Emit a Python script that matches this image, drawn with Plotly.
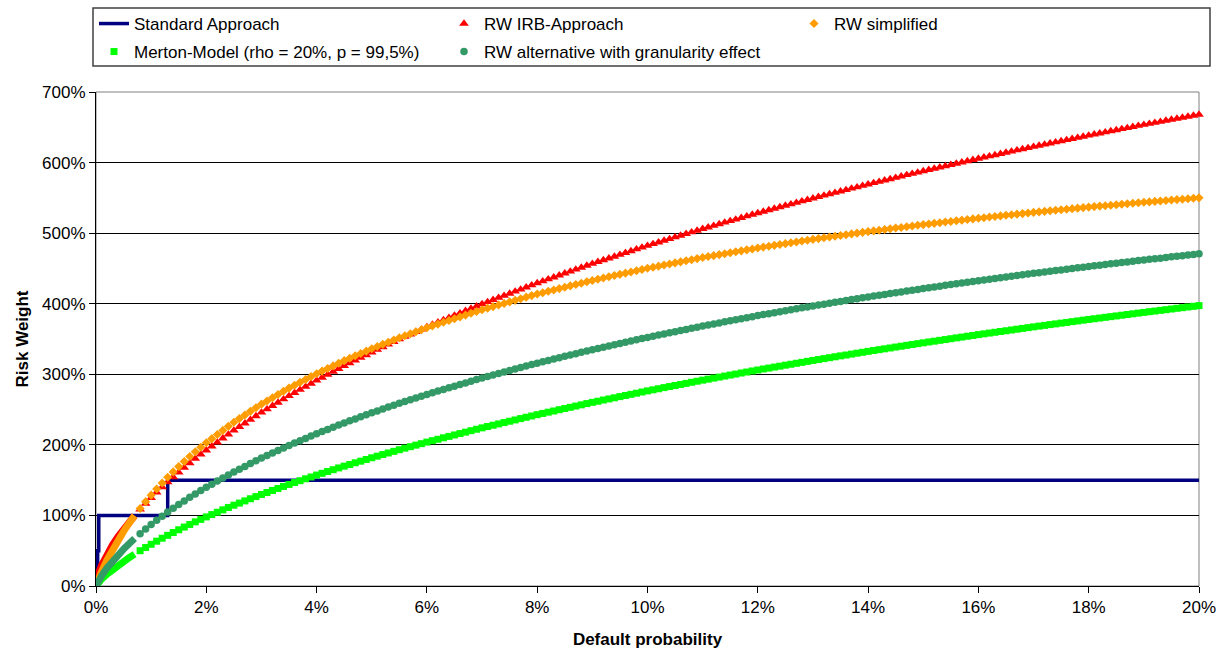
import plotly.graph_objects as go

# ---------------- data (risk weights in %, default probability in %) ----------------
# main grid: default probability 0.8% .. 20% in 0.1% steps (193 points)
pd_grid = [round(0.8 + 0.1 * i, 1) for i in range(193)]

# dense start of the curves (0% .. 0.7%)
pd_start = [0.0, 0.02, 0.05, 0.1, 0.2, 0.3, 0.4, 0.5, 0.6, 0.7]
irb_start = [0.0, 11.2, 19.1, 29.2, 45.2, 58.4, 69.9, 80.5, 90.4, 99.6]
simpl_start = [0.0, 5.0, 10.7, 20.2, 37.0, 51.7, 65.1, 77.4, 88.9, 99.7]
merton_start = [0.0, 2.4, 5.3, 9.5, 16.8, 23.3, 29.2, 34.8, 40.1, 45.1]
gran_start = [0.0, 4.0, 8.0, 14.5, 25.6, 35.3, 44.1, 52.3, 60.0, 67.3]

rw_irb = [
    108.6, 116.9, 124.9, 132.7, 140.2, 147.3, 154.3, 161.1, 167.7, 174.0, 180.4, 186.4, 192.3,
    197.9, 203.5, 209.2, 214.8, 220.4,
    225.5, 230.6, 235.7, 240.8, 245.9,
    250.6, 255.3, 260.0, 264.7, 269.4,
    273.8, 278.2, 282.5, 286.9, 291.3,
    295.4, 299.5, 303.7, 307.8, 311.9,
    315.8, 319.6, 323.5, 327.3, 331.2,
    334.9, 338.6, 342.3, 346.0, 349.7,
    353.2, 356.7, 360.1, 363.6, 367.1,
    370.4, 373.6, 376.9, 380.1, 383.4, 386.6, 389.9, 393.1, 396.4, 399.6,
    402.6, 405.5, 408.5, 411.4, 414.4, 417.4, 420.3, 423.3, 426.2, 429.2,
    432.0, 434.7, 437.5, 440.2, 443.0, 445.7, 448.5, 451.2, 454.0, 456.7,
    459.3, 461.8, 464.4, 466.9, 469.5, 472.1, 474.6, 477.2, 479.7, 482.3,
    484.7, 487.1, 489.4, 491.8, 494.2, 496.6, 499.0, 501.3, 503.7, 506.1,
    508.3, 510.6, 512.8, 515.1, 517.3, 519.5, 521.8, 524.0, 526.3, 528.5,
    530.6, 532.7, 534.8, 536.9, 539.0, 541.0, 543.1, 545.2, 547.3, 549.4,
    551.4, 553.4, 555.3, 557.3, 559.3, 561.3, 563.3, 565.2, 567.2, 569.2,
    571.1, 573.0, 574.8, 576.7, 578.6, 580.5, 582.4, 584.2, 586.1, 588.0,
    589.8, 591.5, 593.3, 595.1, 596.9, 598.6, 600.4, 602.2, 603.9, 605.7,
    607.4, 609.1, 610.7, 612.4, 614.1, 615.8, 617.5, 619.1, 620.8, 622.5,
    624.1, 625.7, 627.3, 628.9, 630.5, 632.1, 633.7, 635.3, 636.9, 638.5,
    640.0, 641.5, 643.1, 644.6, 646.1, 647.6, 649.1, 650.7, 652.2, 653.7,
    655.1, 656.6, 658.0, 659.5, 660.9, 662.3, 663.8, 665.2, 666.7, 668.1,
]

rw_simplified = [
    109.9, 119.5, 128.7, 137.5, 145.9, 154.0, 161.7, 169.2, 176.4, 183.4, 190.2, 196.6, 203.0,
    208.8, 214.6, 220.5, 226.3, 232.1,
    237.2, 242.3, 247.5, 252.6, 257.7,
    262.2, 266.8, 271.3, 275.9, 280.4,
    284.5, 288.6, 292.6, 296.7, 300.8,
    304.5, 308.2, 311.9, 315.6, 319.3,
    322.7, 326.1, 329.4, 332.8, 336.2,
    339.3, 342.4, 345.5, 348.6, 351.7,
    354.6, 357.4, 360.3, 363.1, 366.0,
    368.6, 371.1, 373.7, 376.2, 378.8, 381.3, 383.9, 386.4, 389.0, 391.5,
    393.7, 395.9, 398.2, 400.4, 402.6, 404.8, 407.0, 409.3, 411.5, 413.7,
    415.6, 417.6, 419.5, 421.4, 423.4, 425.3, 427.2, 429.1, 431.1, 433.0,
    434.7, 436.4, 438.2, 439.9, 441.6, 443.3, 445.0, 446.8, 448.5, 450.2,
    451.7, 453.2, 454.8, 456.3, 457.8, 459.3, 460.8, 462.4, 463.9, 465.4,
    466.8, 468.1, 469.5, 470.8, 472.2, 473.6, 474.9, 476.3, 477.6, 479.0,
    480.2, 481.4, 482.7, 483.9, 485.1, 486.3, 487.5, 488.8, 490.0, 491.2,
    492.3, 493.4, 494.5, 495.6, 496.7, 497.8, 498.9, 500.0, 501.1, 502.2,
    503.2, 504.2, 505.2, 506.2, 507.2, 508.1, 509.1, 510.1, 511.1, 512.1,
    513.0, 513.9, 514.8, 515.7, 516.6, 517.5, 518.4, 519.3, 520.2, 521.1,
    521.9, 522.8, 523.6, 524.4, 525.3, 526.1, 526.9, 527.7, 528.6, 529.4,
    530.2, 530.9, 531.7, 532.4, 533.2, 533.9, 534.7, 535.4, 536.2, 536.9,
    537.6, 538.3, 538.9, 539.6, 540.3, 541.0, 541.7, 542.3, 543.0, 543.7,
    544.3, 545.0, 545.6, 546.2, 546.9, 547.5, 548.1, 548.7, 549.4, 550.0,
]

rw_merton = [
    50.0, 54.6, 59.1, 63.5, 67.7, 71.8, 75.8, 79.7, 83.5, 87.2, 90.9, 94.4, 97.9,
    101.2, 104.5, 107.9, 111.2, 114.5,
    117.5, 120.6, 123.6, 126.7, 129.7,
    132.5, 135.4, 138.2, 141.1, 143.9,
    146.6, 149.2, 151.9, 154.5, 157.2,
    159.7, 162.2, 164.8, 167.3, 169.8,
    172.2, 174.6, 176.9, 179.3, 181.7,
    184.0, 186.3, 188.5, 190.8, 193.1,
    195.3, 197.4, 199.6, 201.7, 203.9,
    205.9, 207.9, 210.0, 212.0, 214.0, 216.0, 218.0, 220.1, 222.1, 224.1,
    226.0, 227.8, 229.7, 231.6, 233.5, 235.3, 237.2, 239.1, 240.9, 242.8,
    244.5, 246.3, 248.0, 249.8, 251.5, 253.2, 255.0, 256.7, 258.5, 260.2,
    261.8, 263.5, 265.1, 266.7, 268.4, 270.0, 271.6, 273.2, 274.9, 276.5,
    278.0, 279.5, 281.1, 282.6, 284.1, 285.6, 287.1, 288.7, 290.2, 291.7,
    293.1, 294.6, 296.0, 297.5, 298.9, 300.3, 301.8, 303.2, 304.7, 306.1,
    307.5, 308.8, 310.2, 311.5, 312.9, 314.2, 315.6, 316.9, 318.3, 319.6,
    320.9, 322.2, 323.5, 324.8, 326.1, 327.3, 328.6, 329.9, 331.2, 332.5,
    333.7, 334.9, 336.1, 337.3, 338.6, 339.8, 341.0, 342.2, 343.4, 344.6,
    345.8, 346.9, 348.1, 349.2, 350.4, 351.6, 352.7, 353.9, 355.0, 356.2,
    357.3, 358.4, 359.5, 360.6, 361.7, 362.8, 363.9, 365.0, 366.1, 367.2,
    368.3, 369.3, 370.4, 371.4, 372.5, 373.5, 374.6, 375.6, 376.7, 377.7,
    378.7, 379.7, 380.7, 381.7, 382.7, 383.7, 384.7, 385.7, 386.7, 387.7,
    388.7, 389.6, 390.6, 391.5, 392.5, 393.5, 394.4, 395.4, 396.3, 397.3,
]

rw_granularity = [
    74.2, 80.8, 87.1, 93.1, 99.0, 104.7, 110.1, 115.4, 120.6, 125.6, 130.5, 135.3, 140.0,
    144.3, 148.7, 153.0, 157.4, 161.7,
    165.6, 169.5, 173.5, 177.4, 181.3,
    184.9, 188.5, 192.1, 195.6, 199.2,
    202.5, 205.8, 209.1, 212.4, 215.7,
    218.8, 221.9, 224.9, 228.0, 231.1,
    234.0, 236.8, 239.7, 242.5, 245.4,
    248.1, 250.8, 253.5, 256.2, 258.9,
    261.4, 263.9, 266.5, 269.0, 271.5,
    273.8, 276.2, 278.5, 280.8, 283.2, 285.5, 287.8, 290.1, 292.5, 294.8,
    296.9, 299.0, 301.1, 303.2, 305.3, 307.4, 309.5, 311.6, 313.7, 315.8,
    317.7, 319.6, 321.5, 323.4, 325.4, 327.3, 329.2, 331.1, 333.0, 334.9,
    336.6, 338.4, 340.1, 341.9, 343.6, 345.3, 347.1, 348.8, 350.6, 352.3,
    353.9, 355.5, 357.1, 358.7, 360.4, 362.0, 363.6, 365.2, 366.8, 368.4,
    369.9, 371.4, 372.8, 374.3, 375.8, 377.3, 378.8, 380.2, 381.7, 383.2,
    384.6, 385.9, 387.3, 388.7, 390.1, 391.4, 392.8, 394.2, 395.5, 396.9,
    398.2, 399.4, 400.7, 402.0, 403.3, 404.5, 405.8, 407.1, 408.3, 409.6,
    410.8, 412.0, 413.2, 414.4, 415.6, 416.7, 417.9, 419.1, 420.3, 421.5,
    422.6, 423.7, 424.8, 426.0, 427.1, 428.2, 429.3, 430.4, 431.5, 432.6,
    433.6, 434.7, 435.7, 436.8, 437.8, 438.8, 439.9, 440.9, 442.0, 443.0,
    444.0, 445.0, 445.9, 446.9, 447.9, 448.9, 449.9, 450.8, 451.8, 452.8,
    453.7, 454.6, 455.6, 456.5, 457.4, 458.3, 459.2, 460.2, 461.1, 462.0,
    462.9, 463.7, 464.6, 465.5, 466.4, 467.2, 468.1, 469.0, 469.8, 470.7,
]

# standard approach: step function
std_pd = [0.0, 0.03, 0.03, 0.05, 0.05, 1.3, 1.3, 20.0]
std_rw = [20, 20, 50, 50, 100, 100, 150, 150]

# axis ticks
x_ticks = [0, 2, 4, 6, 8, 10, 12, 14, 16, 18, 20]
y_ticks = [0, 100, 200, 300, 400, 500, 600, 700]

for s in (rw_irb, rw_simplified, rw_merton, rw_granularity):
    assert len(s) == len(pd_grid), len(s)

# ---------------- figure ----------------
FONT = "Liberation Sans, Arial, sans-serif"
RED, ORANGE, LGREEN, DGREEN, NAVY = "#FF0000", "#FF9C00", "#00FF00", "#339966", "#000080"

W, H = 1226, 651
ml, mr, mt, mb = 96, 27, 92, 65
pw, ph = W - ml - mr, H - mt - mb


def px_x(px):
    return (px - ml) / pw


def px_y(py):
    return (H - mb - py) / ph


fig = go.Figure()

fig.add_trace(go.Scatter(x=std_pd, y=std_rw, mode="lines", name="Standard Approach",
                         line=dict(color=NAVY, width=3.5), cliponaxis=False, legend="legend"))

series = [
    ("RW IRB-Approach", irb_start, rw_irb, RED, "triangle-up", 8.5, "legend"),
    ("RW simplified", simpl_start, rw_simplified, ORANGE, "diamond", 7, "legend"),
    ("Merton-Model (rho = 20%, p = 99,5%)", merton_start, rw_merton, LGREEN, "square", 7, "legend2"),
    ("RW alternative with granularity effect", gran_start, rw_granularity, DGREEN, "circle", 7.5, "legend2"),
]
for name, ys, yv, col, sym, size, leg in series:
    fig.add_trace(go.Scatter(x=pd_start, y=ys, mode="lines", showlegend=False,
                             line=dict(color=col, width=7), cliponaxis=False, hoverinfo="skip"))
    fig.add_trace(go.Scatter(x=pd_grid, y=yv, mode="markers", name=name, legend=leg,
                             marker=dict(color=col, symbol=sym, size=size, line=dict(width=0)),
                             cliponaxis=False))

leg_common = dict(orientation="h", xref="container", yref="container",
                  xanchor="left", yanchor="top",
                  entrywidth=305, entrywidthmode="pixels", itemwidth=30,
                  bgcolor="rgba(0,0,0,0)", borderwidth=0,
                  font=dict(family=FONT, size=17, color="black"),
                  traceorder="normal")

fig.update_layout(
    width=W, height=H,
    margin=dict(l=ml, r=mr, t=mt, b=mb, pad=0, autoexpand=False),
    paper_bgcolor="white", plot_bgcolor="white",
    font=dict(family=FONT, size=17, color="black"),
    showlegend=True,
    legend=dict(leg_common, x=94 / W, y=1 - 6 / H),
    legend2=dict(leg_common, x=94 / W, y=1 - 34 / H),
    xaxis=dict(range=[0, 20], tickvals=x_ticks, ticktext=[f"{v}%" for v in x_ticks],
               showgrid=False, zeroline=False, showline=True, linecolor="black", linewidth=1,
               ticks="outside", ticklen=6, tickcolor="black", automargin=False,
               tickfont=dict(size=17),
               title=dict(text="<b>Default probability</b>", font=dict(size=17), standoff=16)),
    yaxis=dict(range=[0, 700], tickvals=y_ticks, ticktext=[f"{v}%" for v in y_ticks],
               showgrid=True, gridcolor="black", gridwidth=1, zeroline=False,
               showline=True, linecolor="black", linewidth=1,
               ticks="outside", ticklen=6, tickcolor="black", automargin=False,
               tickfont=dict(size=17),
               title=dict(text="<b>Risk Weight</b>", font=dict(size=17), standoff=9)),
    shapes=[
        dict(type="rect", xref="paper", yref="paper", x0=0, x1=1, y0=0, y1=1,
             line=dict(color="#808080", width=1), layer="below"),
        dict(type="rect", xref="paper", yref="paper", x0=px_x(93), x1=px_x(1210),
             y0=px_y(66), y1=px_y(8), line=dict(color="#404040", width=1.5)),
    ],
)

fig.write_html("out.html", config={"displayModeBar": False},
               post_script="document.body.style.margin='0';")
